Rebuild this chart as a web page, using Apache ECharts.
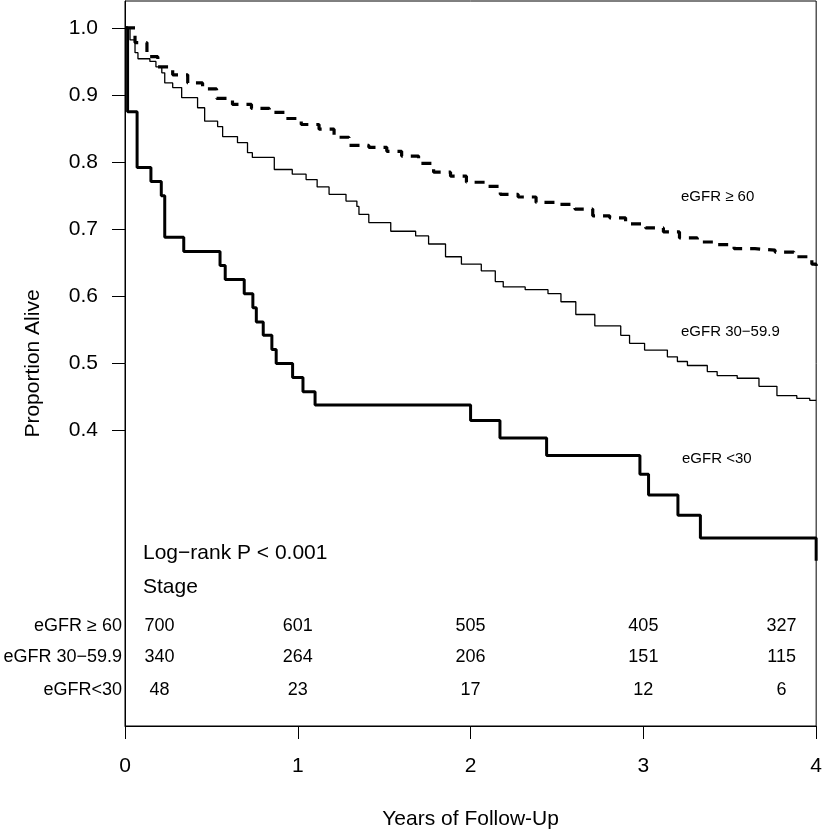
<!DOCTYPE html>
<html>
<head>
<meta charset="utf-8">
<script src="https://cdn.jsdelivr.net/npm/echarts@6/dist/echarts.min.js"></script>
<style>
html,body{margin:0;padding:0;background:#fff;}
#chart{width:825px;height:835px;}
</style>
</head>
<body>
<div id="chart"></div>
<script>
// ---- Data ----
const yTickValues = [0.4, 0.5, 0.6, 0.7, 0.8, 0.9, 1.0];
const riskLabelTimes = [0.2, 1, 2, 3, 3.8];
const atRiskGE60 = [700, 601, 505, 405, 327];
const atRisk30to59 = [340, 264, 206, 151, 115];
const atRiskLT30 = [48, 23, 17, 12, 6];
const groupLabels = ['eGFR \u2265 60', 'eGFR 30\u221259.9', 'eGFR<30'];
const curveLabels = ['eGFR \u2265 60', 'eGFR 30\u221259.9', 'eGFR <30'];

// Kaplan-Meier step curves (time in years, proportion alive after the step)
const timeGE60 = [0, 0.058, 0.127, 0.190, 0.276, 0.363, 0.449, 0.530, 0.622, 0.732, 0.835, 0.933, 1.020, 1.123, 1.210, 1.296, 1.411, 1.515, 1.601, 1.699, 1.786, 1.884, 1.976, 2.085, 2.172, 2.275, 2.379, 2.494, 2.604, 2.707, 2.805, 2.897, 3.013, 3.116, 3.209, 3.312, 3.416, 3.525, 3.646, 3.762, 3.871, 3.975, 4.0];
const survGE60 = [1.0, 0.978, 0.957, 0.942, 0.930, 0.918, 0.909, 0.895, 0.886, 0.880, 0.874, 0.865, 0.856, 0.849, 0.837, 0.825, 0.822, 0.816, 0.809, 0.798, 0.785, 0.779, 0.770, 0.764, 0.752, 0.748, 0.740, 0.737, 0.730, 0.720, 0.717, 0.708, 0.702, 0.696, 0.687, 0.681, 0.677, 0.671, 0.669, 0.666, 0.659, 0.648, 0.645];

const time30to59 = [0, 0.029, 0.058, 0.075, 0.144, 0.179, 0.213, 0.230, 0.276, 0.328, 0.420, 0.461, 0.536, 0.565, 0.651, 0.709, 0.737, 0.864, 0.968, 1.048, 1.112, 1.181, 1.279, 1.342, 1.354, 1.411, 1.538, 1.682, 1.757, 1.855, 1.947, 2.062, 2.143, 2.189, 2.316, 2.448, 2.523, 2.609, 2.719, 2.869, 2.920, 3.007, 3.139, 3.197, 3.255, 3.370, 3.427, 3.543, 3.669, 3.773, 3.888, 3.963, 4.0];
const surv30to59 = [1.0, 0.982, 0.963, 0.954, 0.950, 0.942, 0.933, 0.918, 0.911, 0.896, 0.881, 0.861, 0.853, 0.838, 0.829, 0.814, 0.807, 0.789, 0.782, 0.774, 0.763, 0.752, 0.742, 0.734, 0.722, 0.710, 0.697, 0.690, 0.678, 0.659, 0.648, 0.638, 0.622, 0.614, 0.610, 0.604, 0.592, 0.573, 0.556, 0.542, 0.530, 0.520, 0.510, 0.503, 0.497, 0.488, 0.482, 0.478, 0.466, 0.452, 0.448, 0.445, 0.445];

const timeLT30 = [0, 0.015, 0.07, 0.15, 0.21, 0.23, 0.34, 0.55, 0.58, 0.69, 0.74, 0.76, 0.80, 0.85, 0.875, 0.97, 1.03, 1.10, 2.0, 2.17, 2.44, 2.98, 3.03, 3.20, 3.33, 4.0];
const survLT30 = [1.0, 0.875, 0.792, 0.771, 0.750, 0.688, 0.667, 0.646, 0.625, 0.604, 0.583, 0.562, 0.542, 0.521, 0.500, 0.479, 0.458, 0.438, 0.415, 0.389, 0.363, 0.335, 0.304, 0.274, 0.240, 0.206];

// ---- Layout constants ----
const FONT = '"Liberation Sans", Arial, Helvetica, sans-serif';
const riskRowPx = [626, 657, 690];

function pairs(t, s) { return t.map((x, i) => [x, s[i]]); }

const riskCounts = [atRiskGE60, atRisk30to59, atRiskLT30];

const chart = echarts.init(document.getElementById('chart'), null, {renderer: 'canvas'});
const baseGraphic = [
  {type: 'text', left: 681, top: 198 - 9, style: {text: curveLabels[0], fontSize: 15, fill: '#000', fontFamily: FONT}},
  {type: 'text', left: 681, top: 333 - 9, style: {text: curveLabels[1], fontSize: 15, fill: '#000', fontFamily: FONT}},
  {type: 'text', left: 682, top: 460 - 9, style: {text: curveLabels[2], fontSize: 15, fill: '#000', fontFamily: FONT}},
  {type: 'text', left: 143, top: 555 - 12, style: {text: 'Log\u2212rank P < 0.001', fontSize: 21, fill: '#000', fontFamily: FONT}},
  {type: 'text', left: 143, top: 589 - 12, style: {text: 'Stage', fontSize: 21, fill: '#000', fontFamily: FONT}}
].concat(groupLabels.map((g, r) => ({
  type: 'text', x: 122, y: riskRowPx[r],
  style: {text: g, fontSize: 18, fill: '#000', fontFamily: FONT, align: 'right', verticalAlign: 'middle'}
})));

chart.setOption({
  animation: false,
  backgroundColor: '#fff',
  textStyle: {fontFamily: FONT, color: '#000'},
  grid: {left: 125, right: 6, top: 1, bottom: 107, show: true, borderColor: '#000', borderWidth: 1, backgroundColor: 'transparent'},
  xAxis: {
    type: 'value', min: 0, max: 4, interval: 1,
    name: 'Years of Follow-Up', nameLocation: 'middle', nameGap: 83,
    nameTextStyle: {fontSize: 21, color: '#000', fontFamily: FONT},
    axisLine: {show: true, onZero: false, lineStyle: {color: '#000', width: 1}},
    axisTick: {show: true, inside: false, length: 13, lineStyle: {color: '#000', width: 1}},
    axisLabel: {fontSize: 21, color: '#000', margin: 30, fontFamily: FONT, formatter: v => String(v)},
    splitLine: {show: false}
  },
  yAxis: {
    type: 'value', min: -0.04, max: 1.04,
    name: 'Proportion Alive', nameLocation: 'middle', nameGap: 81,
    nameTextStyle: {fontSize: 21, color: '#000', fontFamily: FONT},
    axisLine: {show: true, onZero: false, lineStyle: {color: '#000', width: 1}},
    axisTick: {show: true, inside: false, length: 13, lineStyle: {color: '#000', width: 1}, customValues: yTickValues},
    axisLabel: {fontSize: 21, color: '#000', margin: 27, fontFamily: FONT, customValues: yTickValues, formatter: v => v.toFixed(1)},
    splitLine: {show: false}
  },
  series: [
    {
      type: 'line', name: curveLabels[0], step: 'end', showSymbol: false, symbol: 'none',
      data: pairs(timeGE60, survGE60),
      lineStyle: {color: '#000', width: 3.2, type: [10, 8], cap: 'butt'}
    },
    {
      type: 'line', name: curveLabels[1], step: 'end', showSymbol: false, symbol: 'none',
      data: pairs(time30to59, surv30to59),
      lineStyle: {color: '#000', width: 1.3}
    },
    {
      type: 'line', name: curveLabels[2], step: 'end', showSymbol: false, symbol: 'none',
      data: pairs(timeLT30, survLT30),
      lineStyle: {color: '#000', width: 3}
    }
  ],
  graphic: baseGraphic
});

// Number-at-risk table: x placement from the time axis scale
const riskGraphic = [];
riskCounts.forEach((row, r) => {
  row.forEach((n, i) => {
    const px = chart.convertToPixel({xAxisIndex: 0}, riskLabelTimes[i]);
    riskGraphic.push({
      type: 'text', x: px, y: riskRowPx[r],
      style: {text: String(n), fontSize: 18, fill: '#000', fontFamily: FONT, align: 'center', verticalAlign: 'middle'}
    });
  });
});
chart.setOption({graphic: baseGraphic.concat(riskGraphic)});
</script>
</body>
</html>
